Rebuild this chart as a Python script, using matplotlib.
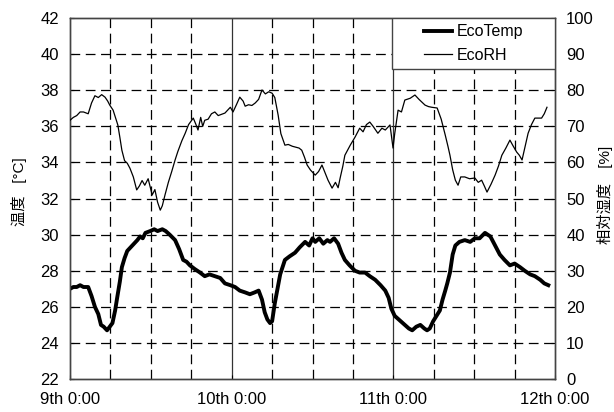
import numpy as np
import matplotlib.pyplot as plt
from matplotlib.lines import Line2D
from matplotlib.patches import Rectangle

plt.rcParams.update({
    "font.family": ["Liberation Sans", "Noto Sans CJK JP"],
    "font.size": 12,
    "lines.scale_dashes": False,
})

# --- datos: horas desde el dia 9 0:00 ---
t_temp = [0, 0.5, 1.0, 1.5, 2.0, 2.7, 3.2, 3.7, 4.2, 4.6, 5.0, 5.5, 5.9, 6.3, 6.7,
          7.0, 7.4, 7.7, 8.1, 8.5, 9.0, 9.5, 10.0, 10.4, 10.8, 11.2, 11.9, 12.5,
          13.0, 13.7, 14.2, 14.8, 15.6, 16.2, 16.8, 17.3, 17.8, 18.5, 19.3, 20.0,
          20.7, 21.5, 22.3, 23.0, 23.8, 24.5, 25.2, 26.0, 26.7, 27.4, 28.0, 28.5,
          28.9, 29.3, 29.7, 30.0, 30.4, 30.8, 31.2, 31.9, 32.6, 33.4, 34.1, 34.9,
          35.5, 36.0, 36.4, 37.0, 37.6, 38.2, 38.6, 39.2, 39.8, 40.3, 40.8, 41.5,
          42.3, 43.0, 43.8, 44.5, 45.3, 46.1, 46.8, 47.3, 47.7, 48.2, 48.8, 49.7,
          50.3, 50.8, 51.4, 52.0, 52.6, 53.0, 53.4, 53.9, 54.4, 54.9, 55.3, 55.7,
          56.0, 56.4, 56.8, 57.2, 57.8, 58.6, 59.4, 60.1, 60.8, 61.6, 62.0, 62.4,
          63.1, 63.8, 64.5, 65.3, 66.0, 66.8, 67.5, 68.3, 69.0, 69.8, 70.4, 71.0]
eco_temp = [27.0, 27.1, 27.1, 27.2, 27.1, 27.1, 26.6, 26.0, 25.6, 25.0, 24.9, 24.7,
            24.9, 25.1, 25.8, 26.5, 27.4, 28.2, 28.7, 29.1, 29.3, 29.5, 29.7, 29.9,
            29.8, 30.1, 30.2, 30.3, 30.2, 30.3, 30.2, 30.0, 29.7, 29.2, 28.6, 28.5,
            28.3, 28.1, 27.9, 27.7, 27.8, 27.7, 27.6, 27.3, 27.2, 27.1, 26.9, 26.8,
            26.7, 26.8, 26.9, 26.4, 25.7, 25.3, 25.1, 25.2, 26.2, 27.0, 27.8, 28.6,
            28.8, 29.0, 29.3, 29.6, 29.4, 29.8, 29.6, 29.8, 29.5, 29.7, 29.6, 29.8,
            29.5, 29.0, 28.6, 28.3, 28.0, 27.9, 27.9, 27.7, 27.5, 27.2, 26.9, 26.5,
            25.9, 25.5, 25.3, 25.0, 24.8, 24.7, 24.9, 25.0, 24.8, 24.7, 24.8, 25.2,
            25.5, 25.8, 26.4, 26.9, 27.3, 27.9, 28.9, 29.4, 29.6, 29.7, 29.6, 29.8,
            29.8, 30.1, 30.0, 29.9, 29.4, 28.9, 28.6, 28.3, 28.4, 28.2, 28.0, 27.8,
            27.7, 27.5, 27.3, 27.2]

t_rh = [0, 0.5, 1.0, 1.5, 2.0, 2.7, 3.2, 3.7, 4.2, 4.7, 5.2, 5.6, 5.9, 6.4, 7.1,
        7.4, 7.7, 8.1, 8.5, 8.9, 9.4, 9.9, 10.3, 10.7, 11.1, 11.6, 12.2, 12.6,
        13.0, 13.4, 13.7, 14.1, 14.6, 15.1, 15.6, 16.0, 16.6, 17.1, 17.6, 18.3,
        18.7, 19.0, 19.4, 19.7, 20.0, 20.5, 21.0, 21.5, 22.0, 23.0, 23.8, 24.2,
        24.7, 25.2, 25.7, 26.0, 26.5, 27.0, 27.5, 28.0, 28.5, 29.0, 29.5, 30.0,
        30.4, 30.9, 31.3, 31.9, 32.4, 33.0, 33.4, 34.0, 34.4, 34.8, 35.2, 35.7,
        36.4, 36.9, 37.4, 37.9, 38.3, 38.9, 39.4, 39.8, 40.1, 40.5, 40.8, 41.6,
        42.3, 43.0, 43.5, 44.0, 44.5, 45.0, 45.7, 46.3, 46.8, 47.5, 47.8, 47.95,
        48.2, 48.7, 49.2, 49.7, 50.5, 51.2, 51.8, 52.7, 53.2, 53.7, 54.5, 55.1,
        55.7, 56.1, 56.4, 56.8, 57.2, 57.6, 58.0, 58.6, 59.3, 60.1, 60.6, 61.1,
        61.5, 61.9, 62.5, 63.1, 63.6, 64.1, 64.7, 65.3, 65.8, 66.3, 66.7, 67.1,
        67.5, 68.0, 68.5, 69.0, 70.0, 70.4, 70.8]
eco_rh = [71.7, 72.5, 73.0, 74.0, 74.0, 73.5, 76.5, 78.5, 78.0, 78.8, 78.1, 77.0,
          75.9, 74.5, 70.4, 67.0, 63.4, 60.5, 59.8, 58.4, 56.0, 52.4, 53.5, 55.0,
          53.7, 55.5, 51.0, 52.5, 49.0, 46.8, 48.0, 51.0, 54.5, 57.5, 60.7, 63.0,
          66.0, 68.1, 70.5, 72.3, 70.5, 69.0, 72.5, 70.0, 71.7, 72.0, 73.5, 74.0,
          73.0, 73.7, 75.3, 74.0, 76.0, 78.1, 77.0, 75.6, 76.0, 75.8, 76.5, 77.5,
          80.1, 79.0, 79.6, 79.2, 78.0, 73.1, 68.0, 64.8, 65.0, 64.5, 64.3, 64.0,
          63.4, 61.5, 59.3, 57.9, 56.5, 57.5, 59.3, 57.0, 55.1, 52.9, 54.5, 53.0,
          55.7, 59.0, 62.0, 64.8, 67.0, 69.5, 68.5, 70.5, 71.2, 70.0, 68.1, 69.5,
          69.0, 70.4, 66.0, 64.0, 68.0, 74.5, 74.0, 77.3, 77.8, 78.7, 77.5, 75.9,
          75.5, 75.3, 75.1, 72.0, 67.6, 64.5, 62.0, 58.0, 55.1, 53.7, 56.0, 56.0,
          55.5, 55.7, 54.5, 55.1, 53.5, 51.8, 54.0, 56.5, 59.0, 62.0, 64.0, 66.2,
          64.5, 62.9, 62.0, 60.7, 64.0, 68.1, 70.5, 72.3, 72.3, 73.5, 75.3]

day_ticks = [0, 24, 48, 72]
day_labels = ["9th 0:00", "10th 0:00", "11th 0:00", "12th 0:00"]

fig = plt.figure(figsize=(6.14, 4.12), dpi=100)
ax = fig.add_axes([0.114, 0.080, 0.790, 0.876])
ax2 = ax.twinx()

# rejilla: discontinua cada 6 h / 2 grados, continua en cambio de dia
for y in range(24, 42, 2):
    ax.axhline(y, color="black", lw=0.9, dashes=(7, 4), zorder=1)
for h in range(6, 72, 6):
    if h % 24 == 0:
        ax.axvline(h, color="#333333", lw=0.9, zorder=1)
    else:
        ax.axvline(h, color="black", lw=0.9, dashes=(7, 4), zorder=1)

ax.plot(t_temp, eco_temp, color="black", lw=2.8, zorder=3)
ax2.plot(t_rh, eco_rh, color="black", lw=0.9, zorder=3)

ax.set_xlim(0, 72)
ax.set_ylim(22, 42)
ax2.set_ylim(0, 100)
ax.set_xticks(day_ticks)
ax.set_xticklabels(day_labels)
ax.set_yticks(range(22, 43, 2))
ax2.set_yticks(range(0, 101, 10))
for a in (ax, ax2):
    a.tick_params(direction="in", length=3, width=0.8, labelsize=12, pad=8)
    for s in a.spines.values():
        s.set_color("#444444")
        s.set_linewidth(1.0)
ax.tick_params(axis="x", pad=9)

ax.set_ylabel("温度   [°C]", fontsize=11)
ax.yaxis.set_label_coords(-0.089, 0.52)
ax2.set_ylabel("相対湿度\u3000[%]", fontsize=11)
ax2.yaxis.set_label_coords(1.087, 0.51)

# leyenda: marco fijo en la esquina superior derecha
ax2.add_patch(Rectangle((0.664, 0.859), 0.336, 0.141, transform=ax2.transAxes,
                        facecolor="white", edgecolor="#444444", lw=1.0, zorder=4))
handles = [Line2D([], [], color="black", lw=2.8), Line2D([], [], color="black", lw=0.9)]
leg = ax2.legend(handles, ["EcoTemp", "EcoRH"], loc="center",
                 bbox_to_anchor=(0.832, 0.9295), bbox_transform=ax2.transAxes,
                 fontsize=11.5, frameon=False, handlelength=1.8, handletextpad=0.3,
                 labelspacing=0.55, borderpad=0)
leg.set_zorder(5)

fig.savefig("out.png", dpi=100)
